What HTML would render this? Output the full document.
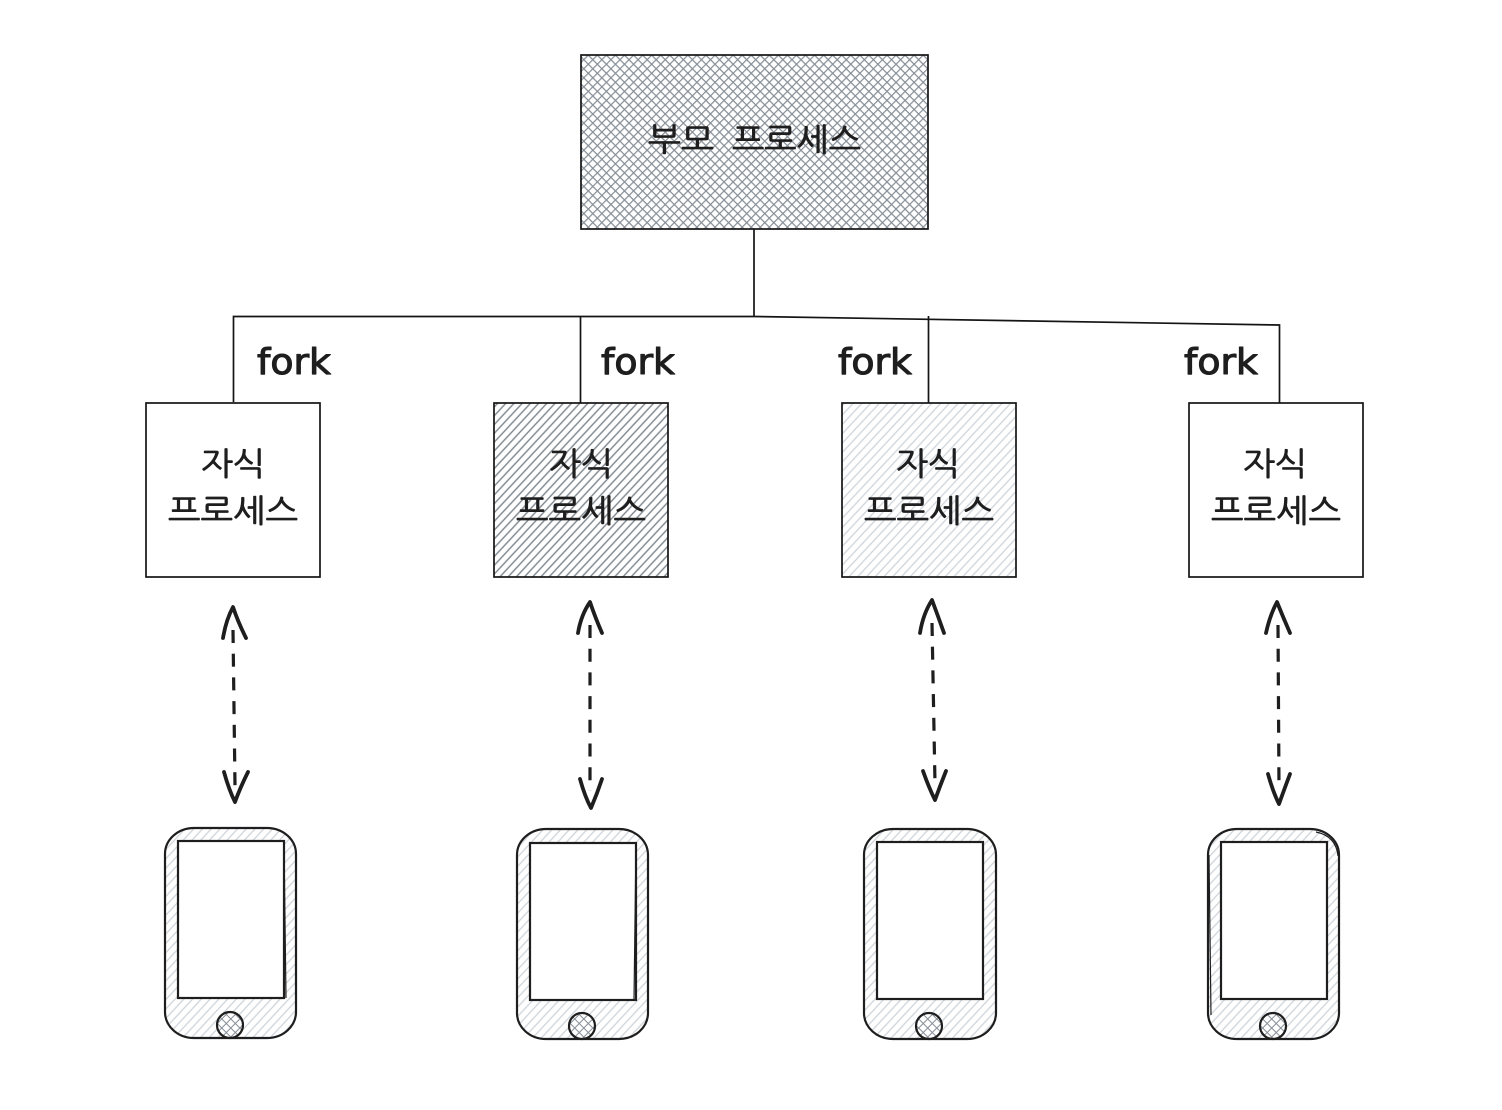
<!DOCTYPE html>
<html lang="ko">
<head>
<meta charset="utf-8">
<title>fork diagram</title>
<style>
html,body{margin:0;padding:0;background:#fff;}
svg{display:block;}
.k{font-family:"Liberation Sans","NanumGothic","Noto Sans CJK KR",sans-serif;font-size:32px;fill:#1e1e1e;stroke:#1e1e1e;stroke-width:0.8px;}
.f{font-family:"DejaVu Sans","Liberation Sans",sans-serif;font-size:36px;fill:#1e1e1e;stroke:#1e1e1e;stroke-width:1.1px;stroke-linejoin:round;}
.s{stroke:#141414;stroke-width:1.7;}
.l{fill:none;stroke:#141414;stroke-width:1.7;}
.p{stroke:#1e1e1e;stroke-width:2.2;}
.t{fill:none;stroke:#1e1e1e;stroke-width:1.2;}
.a{fill:none;stroke:#1e1e1e;stroke-width:3.8;stroke-linecap:round;stroke-linejoin:round;}
.d{fill:none;stroke:#1e1e1e;stroke-width:3.2;stroke-dasharray:13 10.700;}
</style>
</head>
<body>
<svg width="1502" height="1110" viewBox="0 0 1502 1110" xmlns="http://www.w3.org/2000/svg">
<defs>
<pattern id="cross" width="6.4" height="6.4" patternUnits="userSpaceOnUse" patternTransform="rotate(45)">
<rect width="6.4" height="6.4" fill="#fff"/>
<path d="M0 0H6.4M0 0V6.4" stroke="#868e96" stroke-width="2.4"/>
</pattern>
<pattern id="dark" width="6" height="6" patternUnits="userSpaceOnUse" patternTransform="rotate(-47)">
<rect width="6" height="6" fill="#fff"/>
<path d="M0 3H6" stroke="#7d858c" stroke-width="1.4"/>
</pattern>
<pattern id="light" width="6.4" height="6.4" patternUnits="userSpaceOnUse" patternTransform="rotate(-47)">
<rect width="6.4" height="6.4" fill="#fff"/>
<path d="M0 3H6.4" stroke="#ced4da" stroke-width="1.3"/>
</pattern>
<pattern id="btn" width="6.4" height="6.4" patternUnits="userSpaceOnUse" patternTransform="rotate(45)">
<rect width="6.4" height="6.4" fill="#fff"/>
<path d="M0 0H6.4M0 0V6.4" stroke="#868e96" stroke-width="2"/>
</pattern>
</defs>

<rect width="1502" height="1110" fill="#fff"/>

<!-- parent -->
<rect x="581" y="55" width="347" height="174" style="fill:url(#cross)" class="s"/>
<text class="k" x="648" y="151" textLength="66" lengthAdjust="spacingAndGlyphs">부모</text>
<text class="k" x="732" y="151" textLength="129" lengthAdjust="spacingAndGlyphs">프로세스</text>

<!-- connectors -->
<path class="l" d="M754 229V316"/>
<path class="l" d="M233.500 402V316.500L754 316.500L1279.500 325V410"/>
<path class="l" d="M580.500 317V403"/>
<path class="l" d="M928.500 316V403"/>

<!-- fork labels -->
<text class="f" x="257" y="374" textLength="74" lengthAdjust="spacingAndGlyphs">fork</text>
<text class="f" x="601" y="374" textLength="74" lengthAdjust="spacingAndGlyphs">fork</text>
<text class="f" x="838" y="374" textLength="74" lengthAdjust="spacingAndGlyphs">fork</text>
<text class="f" x="1184" y="374" textLength="74" lengthAdjust="spacingAndGlyphs">fork</text>

<!-- children -->
<rect x="146" y="403" width="174" height="174" style="fill:#fff" class="s"/>
<rect x="494" y="403" width="174" height="174" style="fill:url(#dark)" class="s"/>
<rect x="842" y="403" width="174" height="174" style="fill:url(#light)" class="s"/>
<rect x="1189" y="403" width="174" height="174" style="fill:#fff" class="s"/>

<text class="k" x="201" y="475" textLength="64" lengthAdjust="spacingAndGlyphs">자식</text>
<text class="k" x="168" y="522" textLength="130" lengthAdjust="spacingAndGlyphs">프로세스</text>
<text class="k" x="549" y="475" textLength="64" lengthAdjust="spacingAndGlyphs">자식</text>
<text class="k" x="516" y="522" textLength="130" lengthAdjust="spacingAndGlyphs">프로세스</text>
<text class="k" x="896" y="475" textLength="64" lengthAdjust="spacingAndGlyphs">자식</text>
<text class="k" x="864" y="522" textLength="130" lengthAdjust="spacingAndGlyphs">프로세스</text>
<text class="k" x="1243" y="475" textLength="64" lengthAdjust="spacingAndGlyphs">자식</text>
<text class="k" x="1211" y="522" textLength="130" lengthAdjust="spacingAndGlyphs">프로세스</text>

<!-- arrows -->
<path class="d" d="M233 630L235 786"/>
<path class="a" d="M223 638Q226 620 233 607Q238 622 246 638M224 772Q229 790 235 802Q240 788 248 772"/>
<path class="d" d="M590 625V791"/>
<path class="a" d="M578 633Q581 615 590 602Q595 617 602 633M580 779Q585 797 591 808Q597 794 602 779"/>
<path class="d" d="M932 623L935 784"/>
<path class="a" d="M920 633Q923 614 932 600Q938 616 944 633M923 771Q929 788 935 800Q940 786 946 771"/>
<path class="d" d="M1278 625L1279 788"/>
<path class="a" d="M1266 633Q1270 615 1277 602Q1283 617 1290 633M1268 774Q1273 792 1279 804Q1284 790 1290 774"/>

<!-- phones -->
<g>
<rect x="165" y="828" width="131" height="210" rx="29" ry="26" style="fill:url(#light)" class="p"/>
<rect x="178" y="841" width="106" height="157" style="fill:#fff" class="p"/>
<path class="t" d="M284 843L286 998"/>
<circle cx="230" cy="1025" r="13" style="fill:url(#btn)" class="p"/>
</g>
<g>
<rect x="517" y="829" width="131" height="210" rx="29" ry="26" style="fill:url(#light)" class="p"/>
<rect x="530" y="843" width="106" height="157" style="fill:#fff" class="p"/>
<path class="t" d="M636 843L634 1000"/>
<circle cx="582" cy="1026" r="13" style="fill:url(#btn)" class="p"/>
</g>
<g>
<rect x="864" y="829" width="132" height="210" rx="29" ry="26" style="fill:url(#light)" class="p"/>
<rect x="877" y="842" width="106" height="157" style="fill:#fff" class="p"/>
<circle cx="929" cy="1026" r="13" style="fill:url(#btn)" class="p"/>
</g>
<g>
<rect x="1208" y="829" width="131" height="210" rx="29" ry="26" style="fill:url(#light)" class="p"/>
<rect x="1221" y="842" width="106" height="157" style="fill:#fff" class="p"/>
<path class="t" d="M1209 855L1211 1015M1316 832Q1336 836 1338 856"/>
<circle cx="1273" cy="1026" r="13" style="fill:url(#btn)" class="p"/>
</g>
</svg>
</body>
</html>
